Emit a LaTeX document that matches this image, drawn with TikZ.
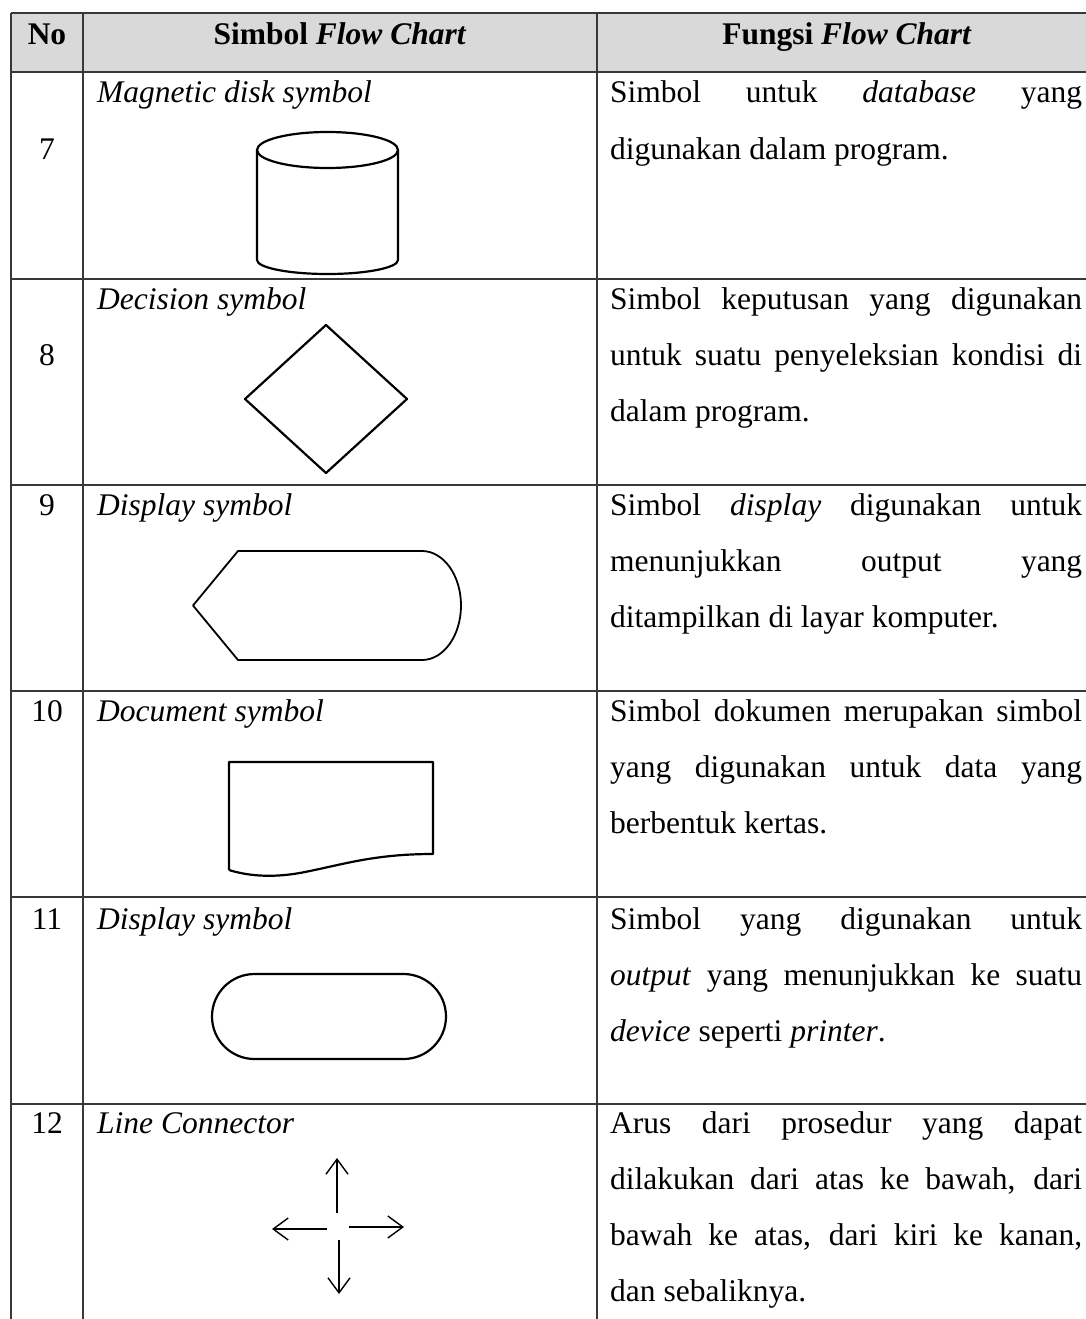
\documentclass[tikz,border=0pt]{standalone}
\usepackage{fontspec}
\setmainfont{Liberation Serif}
\usetikzlibrary{arrows.meta}
\definecolor{hdr}{HTML}{D9D9D9}
\definecolor{rule}{HTML}{383838}
\tikzset{
  txt/.style={anchor=base west, inner sep=0pt, font=\fontsize{31.5}{56}\selectfont},
  ctxt/.style={anchor=base, inner sep=0pt, font=\fontsize{31.5}{56}\selectfont},
  hd/.style={anchor=base, inner sep=0pt, font=\fontsize{31.5}{56}\selectfont\bfseries},
  grid/.style={draw=rule, line width=1.7pt},
  sym/.style={draw=black, line width=2.2pt, line join=round},
  conn/.style={draw=black, line width=1.4pt, -{Straight Barb[length=15pt,width=22pt,line width=1.4pt]}},
}
\newcommand{\jl}[1]{\makebox[472pt][s]{#1}}
\begin{document}
\begin{tikzpicture}[x=1pt,y=1pt]
\useasboundingbox (0,0) rectangle (1086,-1319);
\clip (0,0) rectangle (1086,-1319);
% header background
\fill[hdr] (11,-13) rectangle (1100,-72);
% grid
\foreach \yy in {13,72,279,485,691,897,1104}
  \draw[grid] (11,-\yy) -- (1100,-\yy);
\foreach \xx in {11,83,597}
  \draw[grid] (\xx,-13) -- (\xx,-1330);
% header text
\node[hd] (hNo) at (47,-45) {No};
\node[hd] (hSym) at (340,-45) {Simbol \textit{Flow Chart}};
\node[hd] (hFun) at (847,-45) {Fungsi \textit{Flow Chart}};
% numbers
\node[ctxt] (n7) at (47,-159) {7};
\node[ctxt] (n8) at (47,-365) {8};
\node[ctxt] (n9) at (47,-515) {9};
\node[ctxt] (n10) at (47,-721) {10};
\node[ctxt] (n11) at (47,-929) {11};
\node[ctxt] (n12) at (47,-1133) {12};
% symbol names
\node[txt] (s7) at (97,-103) {\itshape Magnetic disk symbol};
\node[txt] (s8) at (97,-309) {\itshape Decision symbol};
\node[txt] (s9) at (97,-515) {\itshape Display symbol};
\node[txt] (s10) at (97,-721) {\itshape Document symbol};
\node[txt] (s11) at (97,-929) {\itshape Display symbol};
\node[txt] (s12) at (97,-1133) {\itshape Line Connector};
% functions
\node[txt] (f7a) at (610,-103) {\jl{Simbol untuk \textit{database} yang}};
\node[txt] (f7b) at (610,-159) {digunakan dalam program.};
\node[txt] (f8a) at (610,-309) {\jl{Simbol keputusan yang digunakan}};
\node[txt] (f8b) at (610,-365) {\jl{untuk suatu penyeleksian kondisi di}};
\node[txt] (f8c) at (610,-421) {dalam program.};
\node[txt] (f9a) at (610,-515) {\jl{Simbol \textit{display} digunakan untuk}};
\node[txt] (f9b) at (610,-571) {\jl{menunjukkan output yang}};
\node[txt] (f9c) at (610,-627) {ditampilkan di layar komputer.};
\node[txt] (f10a) at (610,-721) {\jl{Simbol dokumen merupakan simbol}};
\node[txt] (f10b) at (610,-777) {\jl{yang digunakan untuk data yang}};
\node[txt] (f10c) at (610,-833) {berbentuk kertas.};
\node[txt] (f11a) at (610,-929) {\jl{Simbol yang digunakan untuk}};
\node[txt] (f11b) at (610,-985) {\jl{\textit{output} yang menunjukkan ke suatu}};
\node[txt] (f11c) at (610,-1041) {\textit{device} seperti \textit{printer}.};
\node[txt] (f12a) at (610,-1133) {\jl{Arus dari prosedur yang dapat}};
\node[txt] (f12b) at (610,-1189) {\jl{dilakukan dari atas ke bawah, dari}};
\node[txt] (f12c) at (610,-1245) {\jl{bawah ke atas, dari kiri ke kanan,}};
\node[txt] (f12d) at (610,-1301) {dan sebaliknya.};
% 7 cylinder
\draw[sym] (327.5,-150) ellipse [x radius=70.5pt, y radius=18pt];
\draw[sym] (257,-150) -- (257,-260) arc[start angle=180, end angle=360, x radius=70.5pt, y radius=14pt] -- (398,-150);
% 8 diamond
\draw[sym] (326,-325) -- (407,-399) -- (326,-473) -- (245,-399) -- cycle;
% 9 display
\draw[sym, line width=1.8pt] (193,-605.5) -- (238,-551) -- (422,-551)
  arc[start angle=90, end angle=-90, x radius=39pt, y radius=54.5pt]
  -- (238,-660) -- cycle;
% 10 document
\draw[sym] (229,-870) -- (229,-762) -- (433,-762) -- (433,-854)
  .. controls (375,-854) and (345,-864) .. (305,-872)
  .. controls (270,-879) and (245,-875) .. (229,-870);
% 11 terminal
\draw[sym, rounded corners=42.5pt] (212,-974) rectangle (446,-1059);
% 12 connectors
\coordinate (uS) at (337,-1213); \coordinate (uE) at (337,-1158);
\coordinate (lS) at (327,-1229); \coordinate (lE) at (272,-1229);
\coordinate (rS) at (349,-1227); \coordinate (rE) at (404,-1227);
\coordinate (dS) at (339,-1240); \coordinate (dE) at (339,-1294);
\draw[conn] (uS) -- (uE);
\draw[conn] (lS) -- (lE);
\draw[conn] (rS) -- (rE);
\draw[conn] (dS) -- (dE);
\end{tikzpicture}
\end{document}
